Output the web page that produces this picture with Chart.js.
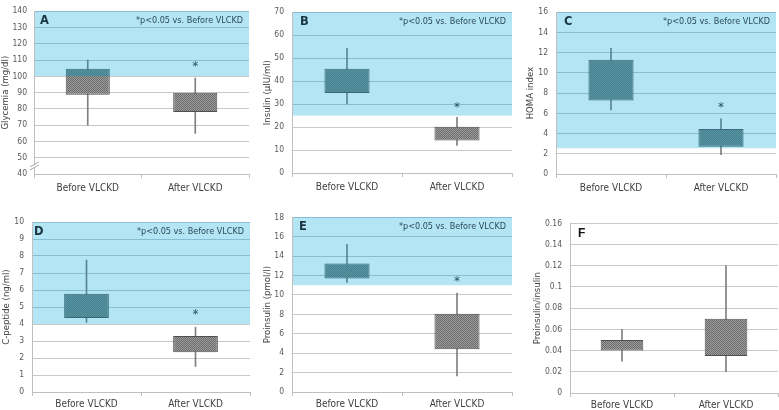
<!DOCTYPE html>
<html>
<head>
<meta charset="utf-8">
<script src="https://cdn.jsdelivr.net/npm/chart.js@4.4.1/dist/chart.umd.min.js"></script>
<style>
  html, body { margin: 0; padding: 0; background: #fff; }
  body { width: 779px; height: 410px; position: relative; overflow: hidden; }
  canvas { position: absolute; }
</style>
</head>
<body>
<canvas id="chartA"></canvas>
<canvas id="chartB"></canvas>
<canvas id="chartC"></canvas>
<canvas id="chartD"></canvas>
<canvas id="chartE"></canvas>
<canvas id="chartF"></canvas>
<script>
const categories = ['Before VLCKD', 'After VLCKD'];
const note = '*p<0.05 vs. Before VLCKD';

// [low, high] per category
const glycemiaBox = [[88.7, 104.6], [78.1, 89.9]];
const glycemiaWhisker = [[70, 110], [65, 99]];
const insulinBox = [[34.8, 45.4], [14.2, 20.1]];
const insulinWhisker = [[30.1, 54.3], [12, 24.2]];
const homaBox = [[7.28, 11.3], [2.7, 4.44]];
const homaWhisker = [[6.33, 12.44], [1.92, 5.45]];
const cpeptideBox = [[4.36, 5.78], [2.34, 3.3]];
const cpeptideWhisker = [[4.1, 7.76], [1.5, 3.81]];
const proinsulinBox = [[11.7, 13.23], [4.4, 8.06]];
const proinsulinWhisker = [[11.28, 15.22], [1.65, 10.18]];
const ratioBox = [[0.04, 0.05], [0.035, 0.07]];
const ratioWhisker = [[0.03, 0.06], [0.02, 0.12]];

// asterisk height over "After VLCKD" and upper limit of the normal range (blue band starts here)
const starValues = [107, 29, 6.7, 4.6, 11.5, null];
const shadeFrom = [100, 25, 2.55, 4, 11, null];

const FONT = "'DejaVu Sans Condensed', 'DejaVu Sans', sans-serif";
Chart.defaults.font.family = FONT;

const BLUE = '#b3e5f5';
const boxAbove = ['#46828f', '#5893a4'];
const boxBelow = ['#6c6c6c', '#9c9c9c'];

const panels = [
  { id: 'chartA', left: 0, top: 0, w: 259, h: 205, letter: 'A', title: 'Glycemia (mg/dl)', box: glycemiaBox, whisker: glycemiaWhisker,
    min: 40, max: 140, step: 10, axisW: 34, padTop: 4.5, padRight: 10, xH: 31, labelPad: 5, titlePad: 0, letterX: 6, tickPad: 7, axisBreak: 45 },
  { id: 'chartB', left: 259, top: 0, w: 260, h: 205, letter: 'B', title: 'Insulin (\u00b5IU/ml)', box: insulinBox, whisker: insulinWhisker,
    min: 0, max: 70, step: 10, axisW: 33, padTop: 3.5, padRight: 7, xH: 32, labelPad: 5, titlePad: 3, letterX: 8, tickPad: 8 },
  { id: 'chartC', left: 519, top: 0, w: 260, h: 205, letter: 'C', title: 'HOMA index', box: homaBox, whisker: homaWhisker,
    min: 0, max: 16, step: 2, axisW: 37, padTop: 4.7, padRight: 3, xH: 31, labelPad: 5, titlePad: 6.3, letterX: 8, tickPad: 8 },
  { id: 'chartD', left: 0, top: 205, w: 259, h: 205, letter: 'D', title: 'C-peptide (ng/ml)', box: cpeptideBox, whisker: cpeptideWhisker,
    min: 0, max: 10, step: 1, axisW: 32, padTop: 17, padRight: 9, xH: 18, labelPad: 3.5, titlePad: 1, letterX: 2, tickPad: 8 },
  { id: 'chartE', left: 259, top: 205, w: 260, h: 205, letter: 'E', title: 'Proinsulin (pmol/l)', box: proinsulinBox, whisker: proinsulinWhisker,
    min: 0, max: 18, step: 2, axisW: 33, padTop: 12.3, padRight: 7, xH: 18, labelPad: 3.5, titlePad: 3, letterX: 7, tickPad: 8 },
  { id: 'chartF', left: 519, top: 205, w: 260, h: 205, letter: 'F', title: 'Proinsulin/insulin', box: ratioBox, whisker: ratioWhisker,
    min: 0, max: 0.16, step: 0.02, axisW: 51, padTop: 18.3, padRight: 1, xH: 17, labelPad: 3, titlePad: 13.3, letterX: 8, tickPad: 8 }
];

function makeFill(chart, shade, above, below) {
  if (!chart.chartArea) return below[0];
  const cut = shade == null ? -1 : Math.round(chart.scales.y.getPixelForValue(shade));
  const c = document.createElement('canvas');
  c.width = 2;
  c.height = chart.height;
  const g = c.getContext('2d');
  for (let y = 0; y < c.height; y++) {
    const cols = y < cut ? above : below;
    for (let x = 0; x < 2; x++) {
      g.fillStyle = cols[(x + y) % 2];
      g.fillRect(x, y, 1, 1);
    }
  }
  return chart.ctx.createPattern(c, 'repeat');
}

// blue "normal range" band behind the grid
const bandPlugin = {
  id: 'band',
  beforeDraw(chart, args, opts) {
    if (opts.from == null) return;
    const { ctx, chartArea, scales: { y } } = chart;
    const top = y.getPixelForValue(y.max);
    const bottom = y.getPixelForValue(opts.from);
    ctx.save();
    ctx.fillStyle = BLUE;
    ctx.fillRect(chartArea.left, top, chartArea.right - chartArea.left, bottom - top);
    ctx.restore();
  }
};

// panel letter, note, asterisk and axis break
const markPlugin = {
  id: 'marks',
  afterDatasetsDraw(chart, args, opts) {
    const { ctx, chartArea, scales: { x, y } } = chart;
    ctx.save();
    ctx.textBaseline = 'middle';
    if (opts.letter === 'F') {
      ctx.font = "bold 12px 'Liberation Sans', Arial, sans-serif";
      ctx.fillStyle = '#111';
    } else {
      ctx.font = "bold 11.5px 'DejaVu Sans', sans-serif";
      ctx.fillStyle = '#1b3442';
    }
    ctx.textAlign = 'left';
    ctx.fillText(opts.letter, chartArea.left + opts.letterX, chartArea.top + 10);

    if (opts.star != null) {
      ctx.font = '9px ' + FONT;
      ctx.fillStyle = '#2b4a57';
      ctx.textAlign = 'right';
      ctx.fillText(note, chartArea.right - 6, chartArea.top + 9.5);

      ctx.font = "12px 'DejaVu Sans', sans-serif";
      ctx.fillStyle = '#1f4f60';
      ctx.textAlign = 'center';
      ctx.fillText('*', x.getPixelForValue(1), y.getPixelForValue(opts.star) + 1.5);
    }

    if (opts.axisBreak != null) {
      const bx = chartArea.left;
      const by = y.getPixelForValue(opts.axisBreak);
      ctx.fillStyle = '#fff';
      ctx.fillRect(bx - 1, by - 1, 3, 3);
      ctx.strokeStyle = '#a8a8a8';
      ctx.lineWidth = 1;
      [-1.5, 1.5].forEach(d => {
        ctx.beginPath();
        ctx.moveTo(bx - 4, by + d + 2.5);
        ctx.lineTo(bx + 5, by + d - 2.5);
        ctx.stroke();
      });
    }
    ctx.restore();
  }
};

panels.forEach((p, i) => {
  const canvas = document.getElementById(p.id);
  canvas.width = p.w;
  canvas.height = p.h;
  canvas.style.left = p.left + 'px';
  canvas.style.top = p.top + 'px';
  const shade = shadeFrom[i];

  new Chart(canvas, {
    type: 'bar',
    data: {
      labels: categories,
      datasets: [
        {
          label: 'range',
          data: p.whisker,
          grouped: false,
          order: 2,
          barThickness: 1,
          backgroundColor: c => makeFill(c.chart, shade, ['#5a8595', '#5a8595'], ['#808080', '#808080']),
          borderWidth: 0
        },
        {
          label: 'box',
          data: p.box,
          grouped: false,
          order: 1,
          categoryPercentage: 1,
          barPercentage: 0.41,
          backgroundColor: c => makeFill(c.chart, shade, boxAbove, boxBelow),
          borderColor: c => makeFill(c.chart, shade, ['#3a6a7a', '#3a6a7a'], ['#505050', '#505050']),
          borderWidth: 1,
          borderSkipped: false
        }
      ]
    },
    options: {
      responsive: false,
      animation: false,
      events: [],
      layout: { padding: { top: p.padTop, right: p.padRight, left: 0, bottom: 0 } },
      plugins: {
        legend: { display: false },
        tooltip: { enabled: false },
        band: { from: shade },
        marks: { letter: p.letter, letterX: p.letterX, star: starValues[i], axisBreak: p.axisBreak }
      },
      scales: {
        x: {
          afterFit: s => { s.height = p.xH; },
          border: { color: '#bfbfbf' },
          grid: { drawOnChartArea: false, drawTicks: true, tickLength: 4, color: '#bfbfbf' },
          ticks: { color: '#404040', font: { size: 10, lineHeight: 1 }, padding: p.labelPad, maxRotation: 0 }
        },
        y: {
          min: p.min,
          max: p.max,
          afterFit: s => { s.width = p.axisW; },
          border: { color: '#bfbfbf' },
          grid: {
            drawTicks: false,
            color: c => (shade != null && c.tick && c.tick.value > shade + 1e-9) ? '#86bdd0' : '#c8c8c8'
          },
          ticks: {
            stepSize: p.step,
            color: '#595959',
            padding: p.tickPad,
            font: { size: 8.5, lineHeight: 1 },
            callback: v => String(+v.toFixed(2))
          },
          title: {
            display: true,
            text: p.title,
            color: '#404040',
            font: { size: 9.5, lineHeight: 1.1 },
            padding: { top: p.titlePad, bottom: 0 }
          }
        }
      }
    },
    plugins: [bandPlugin, markPlugin]
  });
});
</script>
</body>
</html>
